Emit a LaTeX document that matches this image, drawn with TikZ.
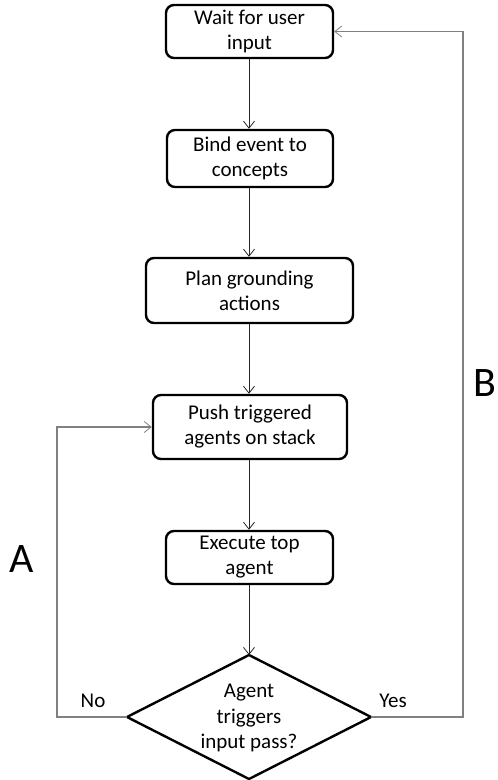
\documentclass[tikz,border=0pt]{standalone}
\usepackage{fontspec}
\setmainfont{Carlito}
\usetikzlibrary{arrows.meta}
\begin{document}
\begin{tikzpicture}[x=1pt,y=-1pt,
  stepbox/.style={draw=black, line width=2.4pt, rounded corners=8pt,
    align=center, font=\fontsize{21}{25}\selectfont, inner sep=0pt},
  flow/.style={draw=black!85, line width=0.8pt,
    -{Straight Barb[length=7pt,width=11pt,line width=0.8pt]}},
  loop/.style={draw=black!50, line width=1.4pt,
    -{Straight Barb[length=7pt,width=11pt,line width=0.8pt]}},
  lbl/.style={font=\fontsize{21}{24}\selectfont},
  biglbl/.style={font=\fontsize{42}{46}\selectfont}]
\useasboundingbox (0,0) rectangle (498,780);

% process steps
\node[stepbox, minimum width=167pt, minimum height=53pt] (wait) at (249.5,31.5) {Wait for user\\input};
\node[stepbox, minimum width=166pt, minimum height=57pt] (bind) at (250,158.5) {Bind event to\\concepts};
\node[stepbox, minimum width=207pt, minimum height=65pt] (plan) at (249.5,290.5) {Plan grounding\\actions};
\node[stepbox, minimum width=194pt, minimum height=64pt] (push) at (250,427) {Push triggered\\agents on stack};
\node[stepbox, minimum width=167pt, minimum height=53pt] (exec) at (249.5,557.5) {Execute top\\agent};

% decision
\coordinate (dt) at (249,655);
\coordinate (dr) at (371,717);
\coordinate (db) at (249,779);
\coordinate (dl) at (127,717);
\draw[line width=2.4pt, line join=miter] (dt) -- (dr) -- (db) -- (dl) -- cycle;
\node[align=center, font=\fontsize{21}{25.5}\selectfont, inner sep=0pt] (dec) at (249,718) {Agent\\triggers\\input pass?};

% main flow
\draw[flow] (wait.south -| 249,0) -- (bind.north -| 249,0);
\draw[flow] (bind.south -| 249,0) -- (plan.north -| 249,0);
\draw[flow] (plan.south -| 249,0) -- (push.north -| 249,0);
\draw[flow] (push.south -| 249,0) -- (exec.north -| 249,0);
\draw[flow] (exec.south -| 249,0) -- (dt);

% loops back
\coordinate (lc) at (57,717);
\coordinate (rc) at (463,717);
\draw[loop] (dl) -- (lc) |- (push.west);
\draw[loop] (dr) -- (rc) |- (wait.east);

% labels
\node[lbl] (no) at (93,701) {No};
\node[lbl] (yes) at (393,701) {Yes};
\node[biglbl] (la) at (22,559) {A};
\node[biglbl] (lb) at (485,383) {B};
\end{tikzpicture}
\end{document}
